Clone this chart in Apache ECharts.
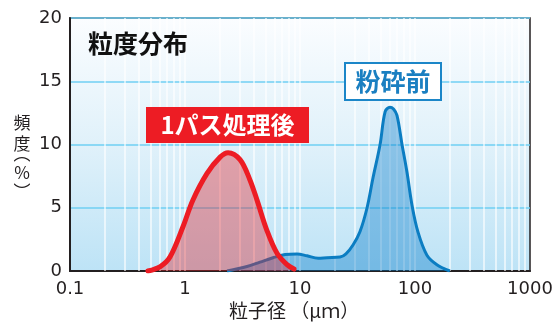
<!DOCTYPE html>
<html>
<head>
<meta charset="utf-8">
<script src="https://cdn.jsdelivr.net/npm/echarts@6/dist/echarts.min.js"></script>
<style>
html, body { margin: 0; padding: 0; background: #ffffff; }
#chart { width: 560px; height: 322px; }
</style>
</head>
<body>
<div id="chart"></div>
<script>
// Particle size axis (µm, log scale) tick labels
const xTickLabels = ['0.1', '1', '10', '100', '1000'];

// Frequency axis (%)
const yMin = 0;
const yMax = 20;
const yStep = 5;

// Before milling: particle size (µm) and frequency (%)
const beforeSize = [2.32, 3.46, 4.49, 5.82, 7.41, 9.42, 11.5, 14.4, 17.2, 22.3, 25.1, 28.9, 33.2, 38.3, 43.1, 49.7, 55.0, 60.6, 65.0, 69.7, 77.1, 85.2, 94.2, 106, 127, 155, 201];
const beforeFreq = [0, 0.35, 0.7, 1.05, 1.3, 1.35, 1.2, 1.0, 1.05, 1.1, 1.35, 2.05, 3.1, 5.0, 7.35, 10.0, 12.6, 12.95, 12.8, 12.3, 10.0, 7.8, 5.2, 3.1, 1.25, 0.5, 0];

// After one pass: particle size (µm) and frequency (%)
const afterSize = [0.476, 0.61, 0.74, 0.96, 1.17, 1.55, 2.02, 2.37, 3.01, 3.67, 4.23, 5.16, 6.31, 7.71, 8.87];
const afterFreq = [0, 0.35, 1.1, 3.5, 5.6, 7.7, 9.0, 9.35, 8.8, 7.2, 5.6, 3.2, 1.4, 0.5, 0.15];

// Intermediate log grid positions (2..9 of every decade, plus decades)
const logGridValues = [
  0.2, 0.3, 0.4, 0.5, 0.6, 0.7, 0.8, 0.9,
  1, 2, 3, 4, 5, 6, 7, 8, 9,
  10, 20, 30, 40, 50, 60, 70, 80, 90,
  100, 200, 300, 400, 500, 600, 700, 800, 900
];

const pair = (xs, ys) => xs.map((x, i) => [x, ys[i]]);

const chart = echarts.init(document.getElementById('chart'), null, { renderer: 'canvas' });

const numFont = 'DejaVu Sans';
const jpFont = '"Noto Sans CJK JP", "Noto Sans", sans-serif';
const ink = '#231f20';

// Vertical y-axis title, one glyph per row
const yNameRows = [
  { ch: '頻', y: 123 },
  { ch: '度', y: 144 },
  { ch: '︵', y: 154 },
  { ch: '%', y: 173 },
  { ch: '︶', y: 192 }
];

chart.setOption({
  animation: false,
  grid: {
    left: 70,
    right: 30,
    top: 18,
    bottom: 51,
    show: true,
    borderColor: ink,
    borderWidth: 1.5,
    backgroundColor: new echarts.graphic.LinearGradient(0, 0, 0, 1, [
      { offset: 0, color: '#fbfdff' },
      { offset: 0.5, color: '#e0f1fa' },
      { offset: 1, color: '#bde3f6' }
    ])
  },
  xAxis: {
    type: 'log',
    logBase: 10,
    min: 0.1,
    max: 1000,
    axisLine: { show: true, lineStyle: { color: ink, width: 2 } },
    axisTick: { show: false },
    splitLine: { show: false },
    axisLabel: {
      color: ink,
      fontFamily: numFont,
      fontSize: 18,
      margin: 9,
      formatter: (v, i) => xTickLabels[i]
    }
  },
  yAxis: {
    type: 'value',
    min: yMin,
    max: yMax,
    interval: yStep,
    axisLine: { show: true, lineStyle: { color: ink, width: 2 } },
    axisTick: { show: false },
    splitLine: { show: true, lineStyle: { color: '#6fcff3', width: 1.5 } },
    axisLabel: {
      color: ink,
      fontFamily: numFont,
      fontSize: 18,
      margin: 8
    }
  },
  series: [
    {
      type: 'line',
      name: 'log-grid',
      data: [],
      z: 1,
      silent: true,
      markLine: {
        z: 1,
        silent: true,
        animation: false,
        symbol: ['none', 'none'],
        label: { show: false },
        emphasis: { disabled: true },
        lineStyle: { color: 'rgba(255,255,255,0.8)', width: 1.5, type: 'solid' },
        data: logGridValues.map(v => ({ xAxis: v }))
      }
    },
    {
      type: 'line',
      name: '粉砕前',
      data: pair(beforeSize, beforeFreq),
      smooth: 0.35,
      showSymbol: false,
      z: 2,
      lineStyle: { color: '#0b7dc2', width: 3 },
      areaStyle: { color: 'rgba(0,120,200,0.55)' }
    },
    {
      type: 'line',
      name: '1パス処理後',
      data: pair(afterSize, afterFreq),
      smooth: 0.35,
      showSymbol: false,
      z: 3,
      lineStyle: { color: '#ed1c24', width: 5, cap: 'round' },
      areaStyle: { color: 'rgba(230,30,40,0.55)' }
    }
  ],
  graphic: [
    {
      type: 'text',
      left: 88,
      top: 31,
      z: 100,
      style: { text: '粒度分布', font: 'bold 25px ' + jpFont, fill: '#111111' }
    },
    {
      type: 'group',
      left: 146,
      top: 107,
      z: 100,
      children: [
        { type: 'rect', z: 100, shape: { x: 0, y: 0, width: 163, height: 36 }, style: { fill: '#ed1c24' } },
        {
          type: 'text',
          z: 101,
          x: 81.5,
          y: 18,
          style: { text: '1パス処理後', font: 'bold 24px ' + jpFont, fill: '#ffffff', align: 'center', verticalAlign: 'middle' }
        }
      ]
    },
    {
      type: 'group',
      left: 344,
      top: 62,
      z: 100,
      children: [
        { type: 'rect', z: 100, shape: { x: 1, y: 1, width: 96, height: 37 }, style: { fill: '#ffffff', stroke: '#1b86c8', lineWidth: 2 } },
        {
          type: 'text',
          z: 101,
          x: 49,
          y: 19.5,
          style: { text: '粉砕前', font: 'bold 25px ' + jpFont, fill: '#1a7fc1', align: 'center', verticalAlign: 'middle' }
        }
      ]
    },
    ...yNameRows.map(r => ({
      type: 'text',
      x: 22,
      y: r.y,
      z: 100,
      style: { text: r.ch, font: '17px ' + jpFont, fill: ink, align: 'center', verticalAlign: 'middle' }
    })),
    {
      type: 'text',
      x: 229,
      y: 311,
      z: 100,
      style: { text: '粒子径 （μｍ）', font: '19px ' + jpFont, fill: ink, verticalAlign: 'middle' }
    }
  ]
});
</script>
</body>
</html>
